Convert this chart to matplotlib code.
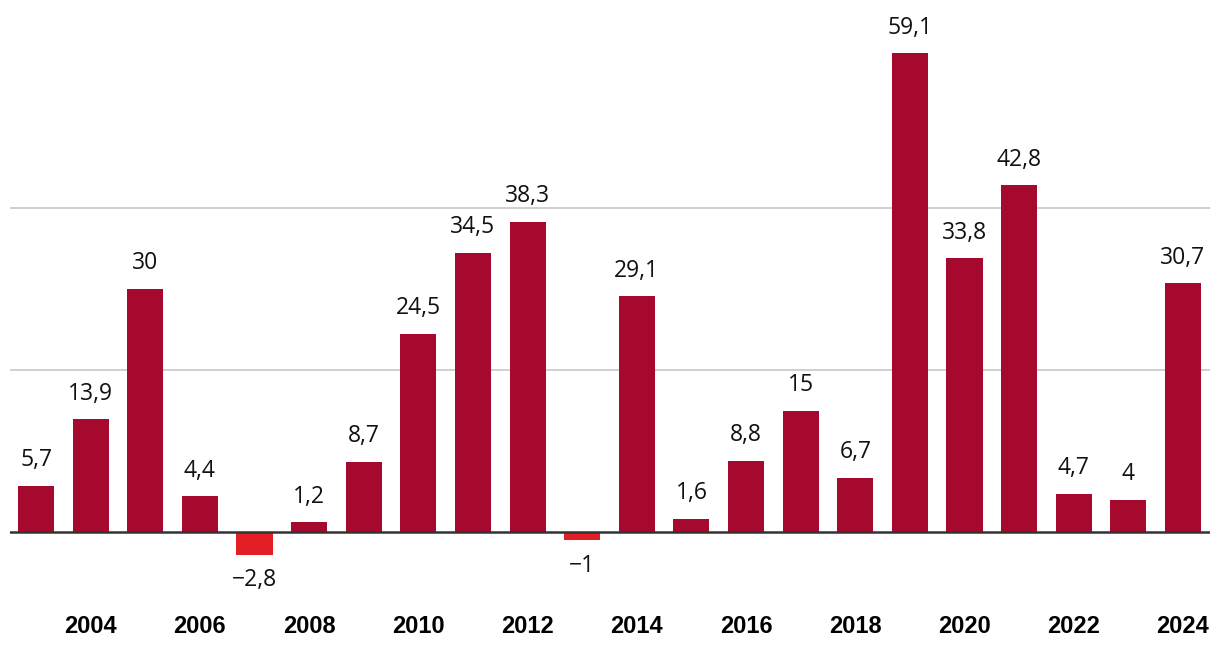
import matplotlib.pyplot as plt
import numpy as np

years = list(range(2003, 2025))
values = [5.7, 13.9, 30, 4.4, -2.8, 1.2, 8.7, 24.5, 34.5, 38.3, -1, 29.1,
          1.6, 8.8, 15, 6.7, 59.1, 33.8, 42.8, 4.7, 4, 30.7]
tick_years = list(range(2004, 2025, 2))

pos_color = '#a50a2e'
neg_color = '#e31e24'

W, H = 1220, 652
fig = plt.figure(figsize=(W / 100, H / 100), dpi=100)

# axes placed in pixel terms: left 10, right 1210, top 0, bottom 600
ax = fig.add_axes([10 / W, (H - 600) / H, 1200 / W, 600 / H])
px = 8.1  # pixels per unit
ax.set_ylim(-(600 - 532) / px, 532 / px)
ax.set_xlim(2003 - 26 / 54.6, 2024 + 27 / 54.6)

colors = [pos_color if v >= 0 else neg_color for v in values]
ax.bar(years, values, width=0.66, color=colors, zorder=2)

for y in [20, 40]:
    ax.axhline(y, color='#c8c8c8', linewidth=1.2, zorder=1)
ax.axhline(0, color='#333333', linewidth=1.8, zorder=3)

for x, v in zip(years, values):
    label = ('%g' % v).replace('.', ',').replace('-', '\u2212')
    off = 18.5 if v >= 0 else -18.5
    ax.annotate(label, (x, v), xytext=(0, off), textcoords='offset points',
                ha='center', va='center', fontsize=16.5,
                family='Open Sans', color='#111111')

ax.set_xticks(tick_years)
ax.set_xticklabels([str(y) for y in tick_years], fontsize=17,
                   fontweight='bold', family='Liberation Sans')
ax.tick_params(axis='x', length=0, pad=11)
ax.set_yticks([])
for s in ax.spines.values():
    s.set_visible(False)

fig.savefig('out.png', dpi=100)
